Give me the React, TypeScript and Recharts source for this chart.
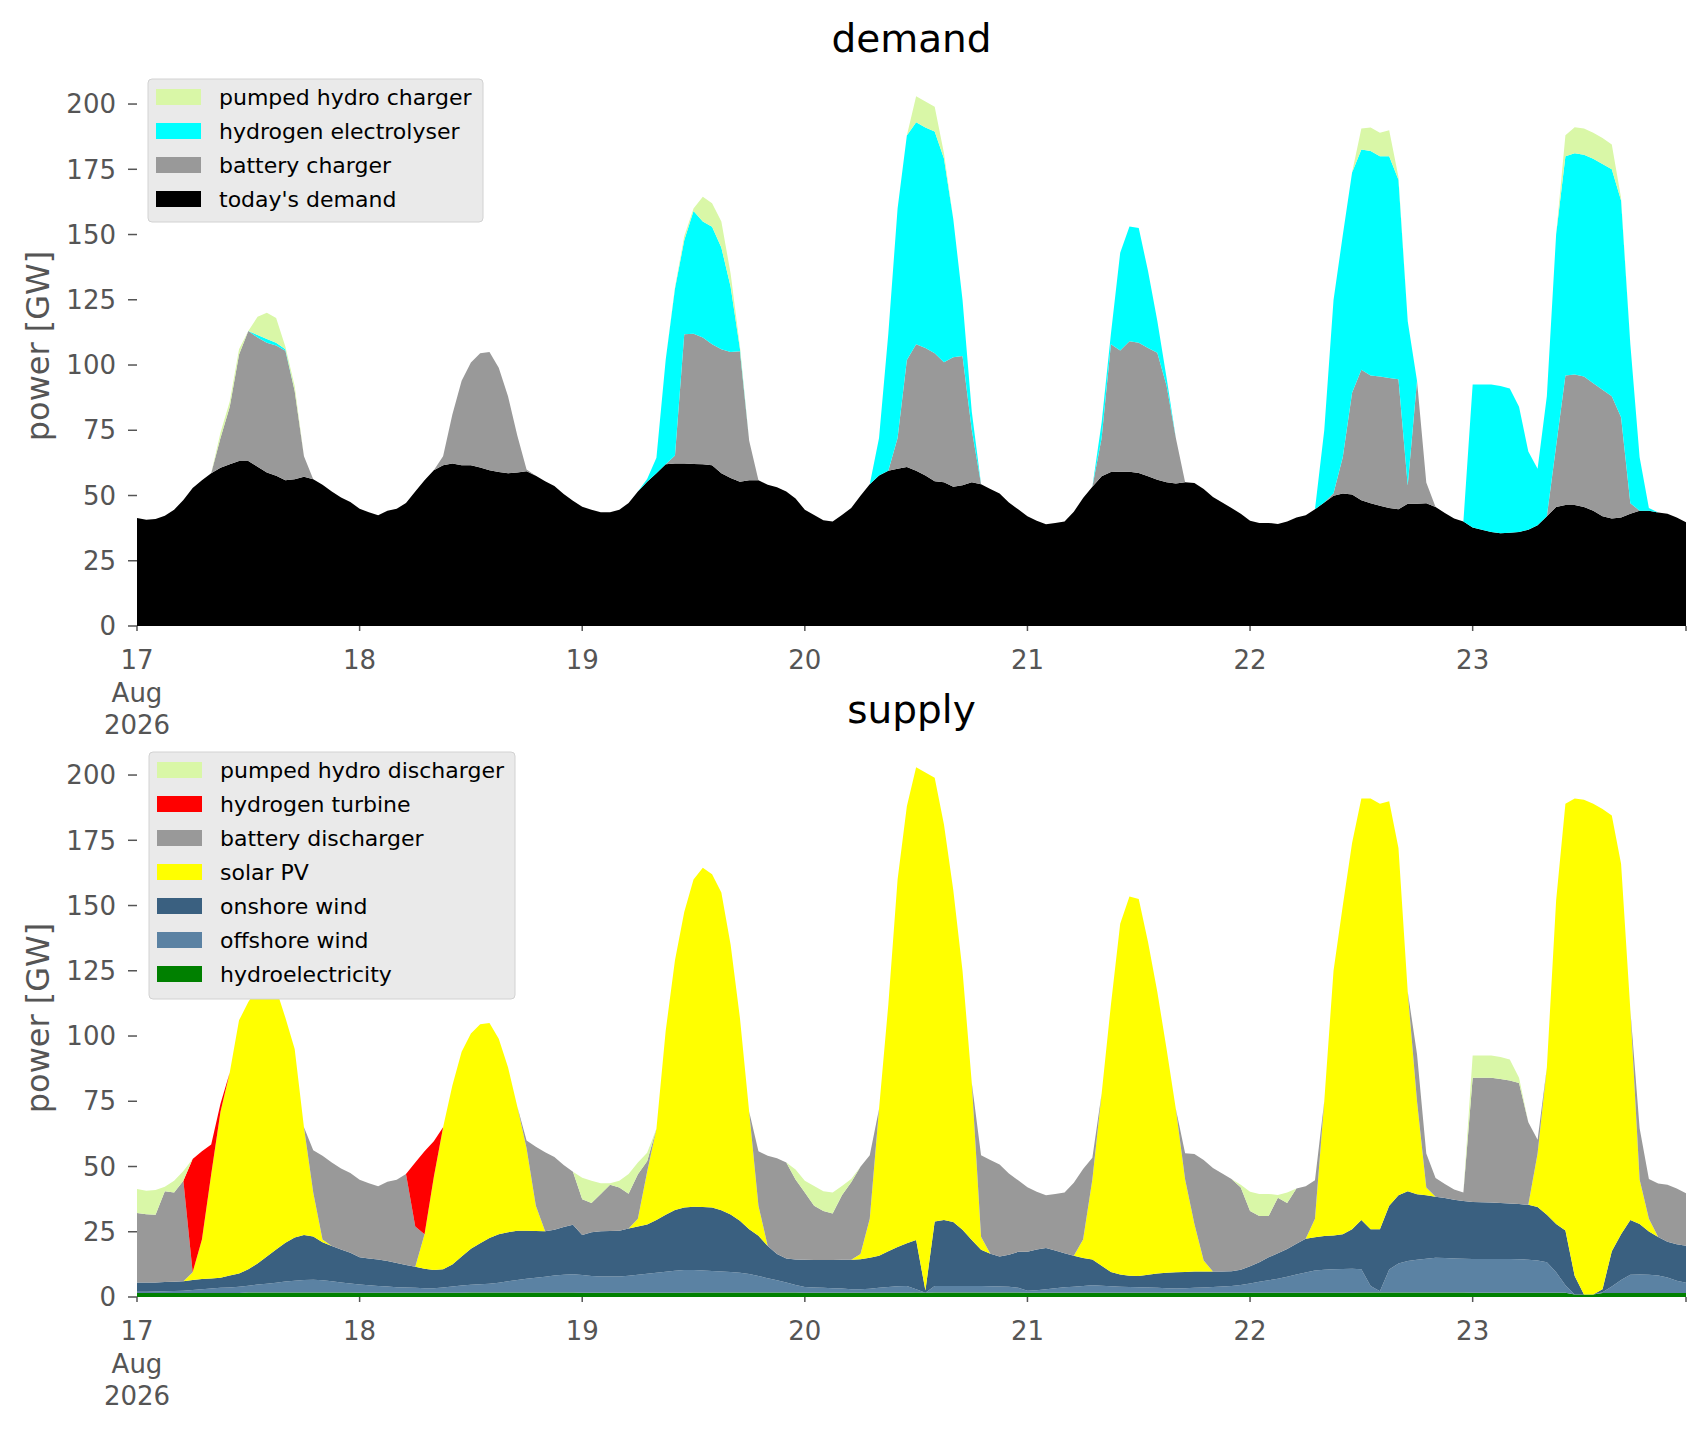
import { Area, AreaChart, XAxis, YAxis } from "recharts";

// hourly values, 17 Aug 00:00 .. 23 Aug 23:00 (GW)
const todaysDemand = [
  41.4, 40.7, 41.0, 42.2, 44.5, 48.3, 52.9, 55.8, 58.5, 60.6, 62.0, 63.2, 63.2, 61.0, 58.8, 57.6, 55.8, 56.2, 57.2, 56.2, 54.1, 51.5, 49.2, 47.5,
  44.9, 43.6, 42.4, 44.2, 44.9, 47.1, 51.5, 55.8, 59.7, 61.6, 62.3, 61.6, 61.6, 60.7, 59.7, 59.0, 58.5, 58.8, 59.3, 57.6, 55.5, 53.6, 50.6, 48.0,
  45.7, 44.5, 43.6, 43.6, 44.5, 47.1, 51.5, 55.3, 58.5, 62.0, 62.3, 62.3, 62.1, 62.0, 61.6, 58.5, 56.7, 55.3, 55.8, 55.8, 54.1, 53.2, 51.5, 48.9,
  44.5, 42.5, 40.5, 40.0, 42.5, 45.2, 49.9, 54.3, 57.7, 59.5, 60.3, 60.9, 59.5, 57.7, 55.5, 55.1, 53.4, 53.9, 55.1, 54.3, 52.5, 50.8, 47.3, 44.7,
  42.1, 40.3, 39.0, 39.5, 40.0, 43.8, 49.0, 53.4, 57.4, 59.0, 59.1, 59.1, 58.6, 57.4, 56.0, 55.1, 54.6, 55.1, 54.8, 52.5, 49.4, 47.3, 45.2, 43.0,
  40.3, 39.5, 39.5, 39.1, 40.0, 41.6, 42.4, 44.7, 47.3, 49.9, 50.8, 50.4, 48.2, 47.0, 46.1, 45.2, 44.7, 46.8, 46.8, 47.0, 45.6, 43.3, 41.2, 40.0,
  37.7, 36.9, 36.0, 35.5, 35.7, 36.0, 36.9, 38.6, 42.1, 45.6, 46.4, 46.4, 45.6, 44.2, 42.1, 41.2, 41.6, 43.0, 44.2, 44.2, 43.5, 43.0, 41.6, 39.8,
];

const batteryCharger = [
  0, 0, 0, 0, 0, 0, 0, 0, 0, 11.4, 22.0, 40.8, 49.8, 49.5, 49.7, 49.9, 49.7, 33.8, 7.8, 0, 0, 0, 0, 0,
  0, 0, 0, 0, 0, 0, 0, 0, 0, 3.4, 18.7, 32.4, 39.4, 43.8, 45.3, 40.0, 29.5, 14.2, 0.7, 0, 0, 0, 0, 0,
  0, 0, 0, 0, 0, 0, 0, 0, 0, 0, 3.0, 49.5, 49.9, 48.5, 46.4, 47.5, 48.3, 50.0, 15.2, 0, 0, 0, 0, 0,
  0, 0, 0, 0, 0, 0, 0, 0, 0, 0, 11.7, 41.0, 48.5, 48.8, 49.0, 46.0, 49.6, 49.6, 20.0, 0, 0, 0, 0, 0,
  0, 0, 0, 0, 0, 0, 0, 0, 14.6, 49.0, 46.5, 50.0, 49.9, 49.1, 48.7, 37.0, 17.4, 0, 0, 0, 0, 0, 0, 0,
  0, 0, 0, 0, 0, 0, 0, 0, 0, 1.0, 14.0, 39.0, 50.0, 49.0, 49.5, 49.8, 49.8, 7.0, 47.2, 8.0, 0, 0, 0, 0,
  0, 0, 0, 0, 0, 0, 0, 0, 0, 23.5, 49.6, 50.0, 50.0, 48.8, 48.4, 46.8, 38.4, 4.0, 0, 0, 0, 0, 0, 0,
];

const hydrogenElectrolyser = [
  0, 0, 0, 0, 0, 0, 0, 0, 0, 0, 0, 0, 0, 1.0, 1.5, 1.0, 0.5, 0, 0, 0, 0, 0, 0, 0,
  0, 0, 0, 0, 0, 0, 0, 0, 0, 0, 0, 0, 0, 0, 0, 0, 0, 0, 0, 0, 0, 0, 0, 0,
  0, 0, 0, 0, 0, 0, 0, 1.0, 6.0, 40.0, 64.0, 36.0, 47.0, 44.5, 45.0, 39.0, 25.0, 1.0, 0, 0, 0, 0, 0, 0,
  0, 0, 0, 0, 0, 0, 0, 0, 14.3, 52.5, 88.0, 86.0, 85.0, 84.5, 85.0, 78.0, 53.0, 21.5, 7.0, 0, 0, 0, 0, 0,
  0, 0, 0, 0, 0, 0, 0, 0, 6.0, 4.0, 37.4, 44.0, 44.0, 29.5, 12.3, 3.0, 0, 0, 0, 0, 0, 0, 0, 0,
  0, 0, 0, 0, 0, 0, 0, 0, 27.7, 74.0, 85.0, 84.4, 84.4, 86.0, 84.4, 85.0, 76.5, 63.0, 0, 0, 0, 0, 0, 0,
  54.8, 55.6, 56.5, 56.5, 55.3, 48.0, 30.0, 21.7, 46.0, 81.0, 84.0, 84.7, 85.0, 86.0, 86.5, 87.0, 83.0, 61.0, 20.5, 1.0, 0, 0, 0, 0,
];

const pumpedHydroCharger = [
  0, 0, 0, 0, 0, 0, 0, 0, 0, 2.0, 2.0, 2.0, 0, 7.0, 10.0, 9.5, 1.0, 2.0, 0, 0, 0, 0, 0, 0,
  0, 0, 0, 0, 0, 0, 0, 0, 0, 0, 0, 0, 0, 0, 0, 0, 0, 0, 0, 0, 0, 0, 0, 0,
  0, 0, 0, 0, 0, 0, 0, 0, 0, 0, 0.5, 1.5, 1.0, 9.5, 9.0, 10.0, 5.0, 1.0, 0, 0, 0, 0, 0, 0,
  0, 0, 0, 0, 0, 0, 0, 0, 0, 0, 0, 0, 10.0, 10.0, 9.5, 2.0, 0, 0, 0, 0, 0, 0, 0, 0,
  0, 0, 0, 0, 0, 0, 0, 0, 0, 0, 0, 0, 0, 0, 0, 0, 0, 0, 0, 0, 0, 0, 0, 0,
  0, 0, 0, 0, 0, 0, 0, 0, 0, 0, 0, 0, 8.0, 9.0, 9.0, 10.0, 1.0, 0, 0, 0, 0, 0, 0, 0,
  0, 0, 0, 0, 0, 0, 0, 0, 0, 0, 8.0, 10.0, 10.0, 10.0, 10.0, 9.5, 1.0, 0, 0, 0, 0, 0, 0, 0,
];

const hydroelectricity = [
  1.5, 1.5, 1.5, 1.5, 1.5, 1.5, 1.5, 1.5, 1.5, 1.5, 1.5, 1.5, 1.7, 1.7, 1.7, 1.7, 1.7, 1.7, 1.7, 1.7, 1.7, 1.7, 1.7, 1.7,
  1.6, 1.6, 1.6, 1.6, 1.6, 1.6, 1.6, 1.6, 1.6, 1.6, 1.6, 1.6, 1.7, 1.7, 1.7, 1.7, 1.7, 1.7, 1.7, 1.7, 1.7, 1.7, 1.7, 1.7,
  1.6, 1.6, 1.6, 1.6, 1.6, 1.6, 1.6, 1.6, 1.6, 1.6, 1.6, 1.6, 1.7, 1.7, 1.7, 1.7, 1.7, 1.7, 1.7, 1.7, 1.7, 1.7, 1.7, 1.7,
  1.6, 1.6, 1.6, 1.6, 1.6, 1.6, 1.6, 1.6, 1.6, 1.6, 1.6, 1.6, 1.7, 1.6, 1.7, 1.7, 1.7, 1.7, 1.7, 1.7, 1.7, 1.7, 1.7, 1.7,
  1.6, 1.6, 1.6, 1.6, 1.6, 1.6, 1.6, 1.6, 1.6, 1.6, 1.6, 1.6, 1.6, 1.6, 1.6, 1.6, 1.6, 1.6, 1.6, 1.6, 1.6, 1.6, 1.6, 1.6,
  1.6, 1.6, 1.6, 1.6, 1.6, 1.6, 1.6, 1.6, 1.6, 1.6, 1.6, 1.6, 1.7, 1.7, 1.7, 1.7, 1.7, 1.7, 1.7, 1.7, 1.7, 1.7, 1.7, 1.7,
  1.6, 1.6, 1.6, 1.6, 1.6, 1.6, 1.6, 1.6, 1.6, 1.6, 1.6, 1.0, 1.0, 1.0, 1.5, 1.5, 1.5, 1.5, 1.5, 1.5, 1.5, 1.5, 1.5, 1.5,
];

const offshoreWind = [
  0.5, 0.5, 0.6, 0.7, 0.8, 0.9, 1.2, 1.5, 1.8, 2.0, 2.1, 2.4, 2.6, 3.1, 3.4, 3.8, 4.2, 4.5, 4.8, 4.9, 4.7, 4.3, 3.9, 3.5,
  3.2, 2.9, 2.6, 2.4, 2.1, 2.0, 1.9, 1.8, 1.8, 2.0, 2.4, 2.8, 3.0, 3.2, 3.4, 3.8, 4.3, 4.8, 5.3, 5.7, 6.1, 6.5, 6.8, 7.0,
  6.8, 6.4, 6.3, 6.3, 6.3, 6.5, 6.9, 7.3, 7.7, 8.1, 8.5, 8.7, 8.6, 8.5, 8.3, 8.1, 7.9, 7.6, 7.1, 6.3, 5.5, 4.7, 3.9, 2.9,
  2.2, 2.0, 1.9, 1.8, 1.7, 1.4, 1.4, 1.6, 1.9, 2.2, 2.5, 2.6, 1.3, 0.0, 2.5, 2.5, 2.5, 2.5, 2.5, 2.5, 2.4, 2.3, 2.2, 1.8,
  0.8, 1.0, 1.4, 1.8, 2.1, 2.3, 2.6, 2.9, 2.7, 2.5, 2.3, 2.2, 2.1, 2.0, 1.9, 1.8, 1.7, 1.8, 1.9, 2.0, 2.2, 2.4, 2.6, 3.0,
  3.6, 4.2, 4.8, 5.4, 6.2, 7.0, 7.8, 8.6, 8.8, 9.0, 9.1, 9.2, 8.9, 2.5, 0.5, 8.8, 11.1, 12.1, 12.6, 13.0, 13.3, 13.2, 13.1, 13.0,
  13.0, 13.0, 13.0, 13.0, 13.0, 12.9, 12.7, 12.4, 11.7, 7.9, 2.9, 0.0, 0.0, 0.0, 0.3, 2.5, 5.0, 7.0, 7.1, 7.0, 6.7, 6.0, 4.7, 4.0,
];

const onshoreWind = [
  3.6, 3.6, 3.5, 3.5, 3.5, 3.6, 3.8, 3.9, 3.8, 3.9, 4.6, 5.1, 6.3, 8.0, 10.4, 12.7, 14.9, 16.6, 17.3, 16.6, 14.6, 13.5, 12.6, 11.8,
  10.4, 10.3, 10.2, 9.8, 9.3, 8.7, 8.1, 7.4, 6.9, 7.0, 8.5, 11.1, 13.8, 15.7, 17.5, 18.5, 18.8, 18.9, 18.4, 17.9, 17.4, 17.6, 18.3, 19.0,
  15.4, 16.8, 17.3, 17.4, 17.5, 18.1, 18.5, 18.9, 20.2, 21.8, 23.2, 24.0, 24.3, 24.3, 24.3, 23.4, 22.0, 19.9, 17.2, 15.5, 12.3, 10.1, 9.2, 9.8,
  10.5, 10.6, 10.7, 10.8, 11.0, 11.3, 11.5, 11.8, 12.3, 13.7, 15.1, 16.4, 18.8, 0.9, 24.7, 25.3, 24.5, 21.6, 17.6, 13.9, 12.5, 11.5, 12.3, 13.8,
  14.9, 15.6, 15.8, 14.4, 13.1, 11.9, 10.7, 9.9, 7.7, 5.5, 4.7, 4.3, 4.3, 4.9, 5.5, 5.9, 6.2, 6.2, 6.3, 6.2, 6.0, 5.8, 5.7, 5.8,
  6.6, 7.5, 8.8, 9.8, 10.6, 11.8, 12.9, 12.7, 13.0, 13.0, 13.3, 15.2, 18.9, 21.8, 23.8, 24.5, 26.2, 26.7, 25.1, 24.3, 23.4, 23.0, 22.5, 22.1,
  21.8, 21.7, 21.6, 21.4, 21.2, 21.1, 21.0, 20.5, 18.2, 18.5, 21.0, 7.0, 0.0, 0.0, 1.2, 13.5, 17.5, 21.0, 19.4, 16.6, 14.8, 13.7, 14.0, 14.1,
];

const solarPV = [
  0, 0, 0, 0, 0, 0, 3.0, 15.1, 39.9, 63.6, 77.8, 97.0, 102.4, 105.7, 104.5, 99.8, 86.2, 72.2, 41.2, 16.8, 1.0, 0, 0, 0,
  0, 0, 0, 0, 0, 0, 0, 13.2, 35.7, 54.4, 68.5, 78.5, 82.5, 83.9, 82.4, 75.0, 63.2, 47.6, 31.6, 9.7, 0, 0, 0, 0,
  0, 0, 0, 0, 0, 0, 3.0, 20.2, 35.0, 70.5, 95.7, 113.2, 125.4, 130.0, 127.7, 121.8, 103.4, 77.8, 45.0, 11.5, 0, 0, 0, 0,
  0, 0, 0, 0, 0, 0, 2.0, 15.0, 56.2, 94.5, 140.8, 167.4, 181.2, 198.5, 170.1, 151.5, 127.3, 99.2, 60.2, 5.0, 0, 0, 0, 0,
  0, 0, 0, 0, 0, 0, 7.1, 30.6, 66.0, 102.4, 134.4, 145.4, 144.5, 127.5, 108.0, 85.7, 62.5, 35.4, 18.2, 4.2, 0, 0, 0, 0,
  0, 0, 0, 0, 0, 0, 0, 7.1, 51.6, 101.4, 126.0, 148.0, 161.5, 165.0, 163.0, 155.0, 133.0, 76.5, 35.6, 3.0, 0, 0, 0, 0,
  0, 0, 0, 0, 0, 0, 0, 20.5, 56.5, 124.0, 163.5, 183.0, 189.5, 188.0, 184.0, 167.0, 142.0, 80.5, 17.0, 4.9, 0, 0, 0, 0,
];

const batteryDischarger = [
  26.6, 26.1, 25.9, 34.8, 34.2, 38.5, 0, 0, 0, 0, 0, 0, 0, 0, 0, 0, 0, 0, 0, 16.2, 32.1, 32.0, 31.0, 30.5,
  29.7, 28.8, 28.0, 30.4, 31.9, 34.8, 15.4, 0, 0, 0, 0, 0, 0, 0, 0, 0, 0, 0, 3.0, 22.6, 30.3, 27.8, 23.8, 20.3,
  13.7, 11.2, 14.3, 17.7, 16.6, 13.4, 17.0, 4.0, 0, 0, 0, 0, 0, 0, 0, 0, 0, 0, 0, 20.8, 34.6, 36.7, 36.7, 30.6,
  25.7, 20.8, 18.8, 17.8, 24.7, 29.7, 33.4, 24.3, 0, 0, 0, 0, 0, 0, 0, 0, 0, 0, 0, 31.2, 35.9, 35.3, 31.1, 27.4,
  24.8, 22.1, 20.2, 21.7, 23.2, 28.0, 27.0, 8.4, 0, 0, 0, 0, 0, 0, 0, 0, 0, 10.1, 26.8, 38.5, 39.6, 37.5, 35.3, 31.6,
  21.2, 17.7, 15.8, 21.2, 17.6, 21.2, 20.1, 14.7, 0, 0, 0, 0, 0, 0, 0, 0, 0, 0, 18.0, 13.0, 7.2, 5.4, 3.9, 3.2,
  47.6, 47.7, 47.8, 47.5, 47.2, 46.4, 31.7, 5.3, 0, 0, 0, 0, 0, 0, 0, 0, 0, 0, 19.7, 15.2, 20.5, 21.8, 21.4, 20.2,
];

const hydrogenTurbine = [
  0, 0, 0, 0, 0, 0, 43.4, 33.8, 11.4, 3.0, 0, 0, 0, 0, 0, 0, 0, 0, 0, 0, 0, 0, 0, 0,
  0, 0, 0, 0, 0, 0, 24.5, 31.8, 13.7, 0, 0, 0, 0, 0, 0, 0, 0, 0, 0, 0, 0, 0, 0, 0,
  0, 0, 0, 0, 0, 0, 0, 0, 0, 0, 0, 0, 0, 0, 0, 0, 0, 0, 0, 0, 0, 0, 0, 0,
  0, 0, 0, 0, 0, 0, 0, 0, 0, 0, 0, 0, 0, 0, 0, 0, 0, 0, 0, 0, 0, 0, 0, 0,
  0, 0, 0, 0, 0, 0, 0, 0, 0, 0, 0, 0, 0, 0, 0, 0, 0, 0, 0, 0, 0, 0, 0, 0,
  0, 0, 0, 0, 0, 0, 0, 0, 0, 0, 0, 0, 0, 0, 0, 0, 0, 0, 0, 0, 0, 0, 0, 0,
  0, 0, 0, 0, 0, 0, 0, 0, 0, 0, 0, 0, 0, 0, 0, 0, 0, 0, 0, 0, 0, 0, 0, 0,
];

const pumpedHydroDischarger = [
  9.2, 9.0, 9.5, 1.7, 4.5, 3.8, 0, 0, 0, 0, 0, 0, 0, 0, 0, 0, 0, 0, 0, 0, 0, 0, 0, 0,
  0, 0, 0, 0, 0, 0, 0, 0, 0, 0, 0, 0, 0, 0, 0, 0, 0, 0, 0, 0, 0, 0, 0, 0,
  8.2, 8.5, 4.1, 0.6, 2.5, 7.5, 4.5, 3.3, 0, 0, 0, 0, 0, 0, 0, 0, 0, 0, 0, 0, 0, 0, 0, 3.9,
  4.5, 7.5, 7.5, 8.0, 3.5, 1.2, 0, 0, 0, 0, 0, 0, 0, 0, 0, 0, 0, 0, 0, 0, 0, 0, 0, 0,
  0, 0, 0, 0, 0, 0, 0, 0, 0, 0, 0, 0, 0, 0, 0, 0, 0, 0, 0, 0, 0, 0, 0, 1.0,
  7.3, 8.5, 8.5, 1.1, 4.0, 0, 0, 0, 0, 0, 0, 0, 0, 0, 0, 0, 0, 0, 0, 0, 0, 0, 0, 0,
  8.5, 8.5, 8.5, 8.5, 8.0, 2.0, 0, 0, 0, 0, 0, 0, 0, 0, 0, 0, 0, 0, 0, 0, 0, 0, 0, 0,
];

const dayLabels = ["17", "18", "19", "20", "21", "22", "23"];
const firstTickExtra = ["Aug", "2026"];
const xTickHours = [0, 24, 48, 72, 96, 120, 144, 167];
const yTicks = [0, 25, 50, 75, 100, 125, 150, 175, 200];

const FONT = "'DejaVu Sans', sans-serif";
const TICK_GREY = "#555555";
const W = 1706;

type Layer = { key: string; name: string; color: string; values: number[] };

const demandLayers: Layer[] = [
  { key: "demand", name: "today's demand", color: "#000000", values: todaysDemand },
  { key: "battCh", name: "battery charger", color: "#999999", values: batteryCharger },
  { key: "elec", name: "hydrogen electrolyser", color: "#00ffff", values: hydrogenElectrolyser },
  { key: "phCh", name: "pumped hydro charger", color: "#d9f7a7", values: pumpedHydroCharger },
];

const supplyLayers: Layer[] = [
  { key: "hydro", name: "hydroelectricity", color: "#008000", values: hydroelectricity },
  { key: "off", name: "offshore wind", color: "#5b82a3", values: offshoreWind },
  { key: "on", name: "onshore wind", color: "#3a6080", values: onshoreWind },
  { key: "solar", name: "solar PV", color: "#ffff00", values: solarPV },
  { key: "battDis", name: "battery discharger", color: "#999999", values: batteryDischarger },
  { key: "h2t", name: "hydrogen turbine", color: "#ff0000", values: hydrogenTurbine },
  { key: "phDis", name: "pumped hydro discharger", color: "#d9f7a7", values: pumpedHydroDischarger },
];

function buildRows(layers: Layer[]) {
  return layers[0].values.map((_, i) => {
    const row: Record<string, number> = { h: i };
    layers.forEach((l) => (row[l.key] = l.values[i]));
    return row;
  });
}

function DateTick(props: any) {
  const { x, y, payload } = props;
  const i = xTickHours.indexOf(payload.value);
  if (i < 0 || i >= dayLabels.length) return null;
  return (
    <text x={x} y={y} textAnchor="middle" fill={TICK_GREY} fontSize={26} fontFamily={FONT}>
      <tspan x={x} dy={38}>{dayLabels[i]}</tspan>
      {i === 0 && (
        <>
          <tspan x={x} dy={33}>{firstTickExtra[0]}</tspan>
          <tspan x={x} dy={32}>{firstTickExtra[1]}</tspan>
        </>
      )}
    </text>
  );
}

function StackChart({ layers, height, top }: { layers: Layer[]; height: number; top: number }) {
  const rows = buildRows(layers);
  return (
    <AreaChart width={W} height={height} data={rows} margin={{ top, right: 20, bottom: 34, left: 0 }}>
      <XAxis
        dataKey="h"
        type="number"
        domain={[0, 167]}
        ticks={xTickHours}
        interval={0}
        height={100}
        axisLine={false}
        tickSize={5}
        tickMargin={0}
        tickLine={{ stroke: TICK_GREY, strokeWidth: 1.5 }}
        tick={<DateTick />}
      />
      <YAxis
        type="number"
        domain={[0, 214]}
        ticks={yTicks}
        interval={0}
        width={137}
        axisLine={false}
        tickSize={9}
        tickMargin={12}
        tickLine={{ stroke: TICK_GREY, strokeWidth: 1.5 }}
        tick={{ fill: TICK_GREY, fontSize: 26, fontFamily: FONT }}
      />
      {layers.map((l) => (
        <Area
          key={l.key}
          dataKey={l.key}
          stackId="s"
          type="linear"
          stroke="none"
          fill={l.color}
          fillOpacity={1}
          dot={false}
          activeDot={false}
          isAnimationActive={false}
        />
      ))}
    </AreaChart>
  );
}

function Legend({ layers, x, y, w, h, step }: { layers: Layer[]; x: number; y: number; w: number; h: number; step: number }) {
  const rows = [...layers].reverse();
  return (
    <g>
      <rect x={x} y={y} width={w} height={h} rx={4} fill="#eaeaea" stroke="#d2d2d2" strokeWidth={1} />
      {rows.map((l, i) => {
        const cy = y + 18 + i * step;
        return (
          <g key={l.key}>
            <rect x={x + 8} y={cy - 8} width={45} height={16} fill={l.color} />
            <text x={x + 71} y={cy} dominantBaseline="central" fontSize={22} fontFamily={FONT} fill="#000">
              {l.name}
            </text>
          </g>
        );
      })}
    </g>
  );
}

export default function App() {
  return (
    <div style={{ position: "absolute", left: 0, top: 0, width: W, height: 1431, background: "#fff", fontFamily: FONT }}>
      <div style={{ position: "absolute", left: 0, top: 0 }}>
        <StackChart layers={demandLayers} height={760} top={67.5} />
      </div>
      <div style={{ position: "absolute", left: 0, top: 680 }}>
        <StackChart layers={supplyLayers} height={751} top={58.5} />
      </div>
      <svg width={W} height={1431} style={{ position: "absolute", left: 0, top: 0, pointerEvents: "none" }}>
        <text x={911.5} y={52} textAnchor="middle" fontSize={39} fontFamily={FONT} fill="#000">demand</text>
        <text x={911.5} y={723} textAnchor="middle" fontSize={39} fontFamily={FONT} fill="#000">supply</text>
        <text x={38} y={346} transform="rotate(-90 38 346)" textAnchor="middle" dominantBaseline="central" fontSize={32} fontFamily={FONT} fill={TICK_GREY}>
          power [GW]
        </text>
        <text x={38} y={1018} transform="rotate(-90 38 1018)" textAnchor="middle" dominantBaseline="central" fontSize={32} fontFamily={FONT} fill={TICK_GREY}>
          power [GW]
        </text>
        <Legend layers={demandLayers} x={148} y={79} w={335} h={143} step={34} />
        <Legend layers={supplyLayers} x={149} y={752} w={366} h={247} step={34} />
      </svg>
    </div>
  );
}
